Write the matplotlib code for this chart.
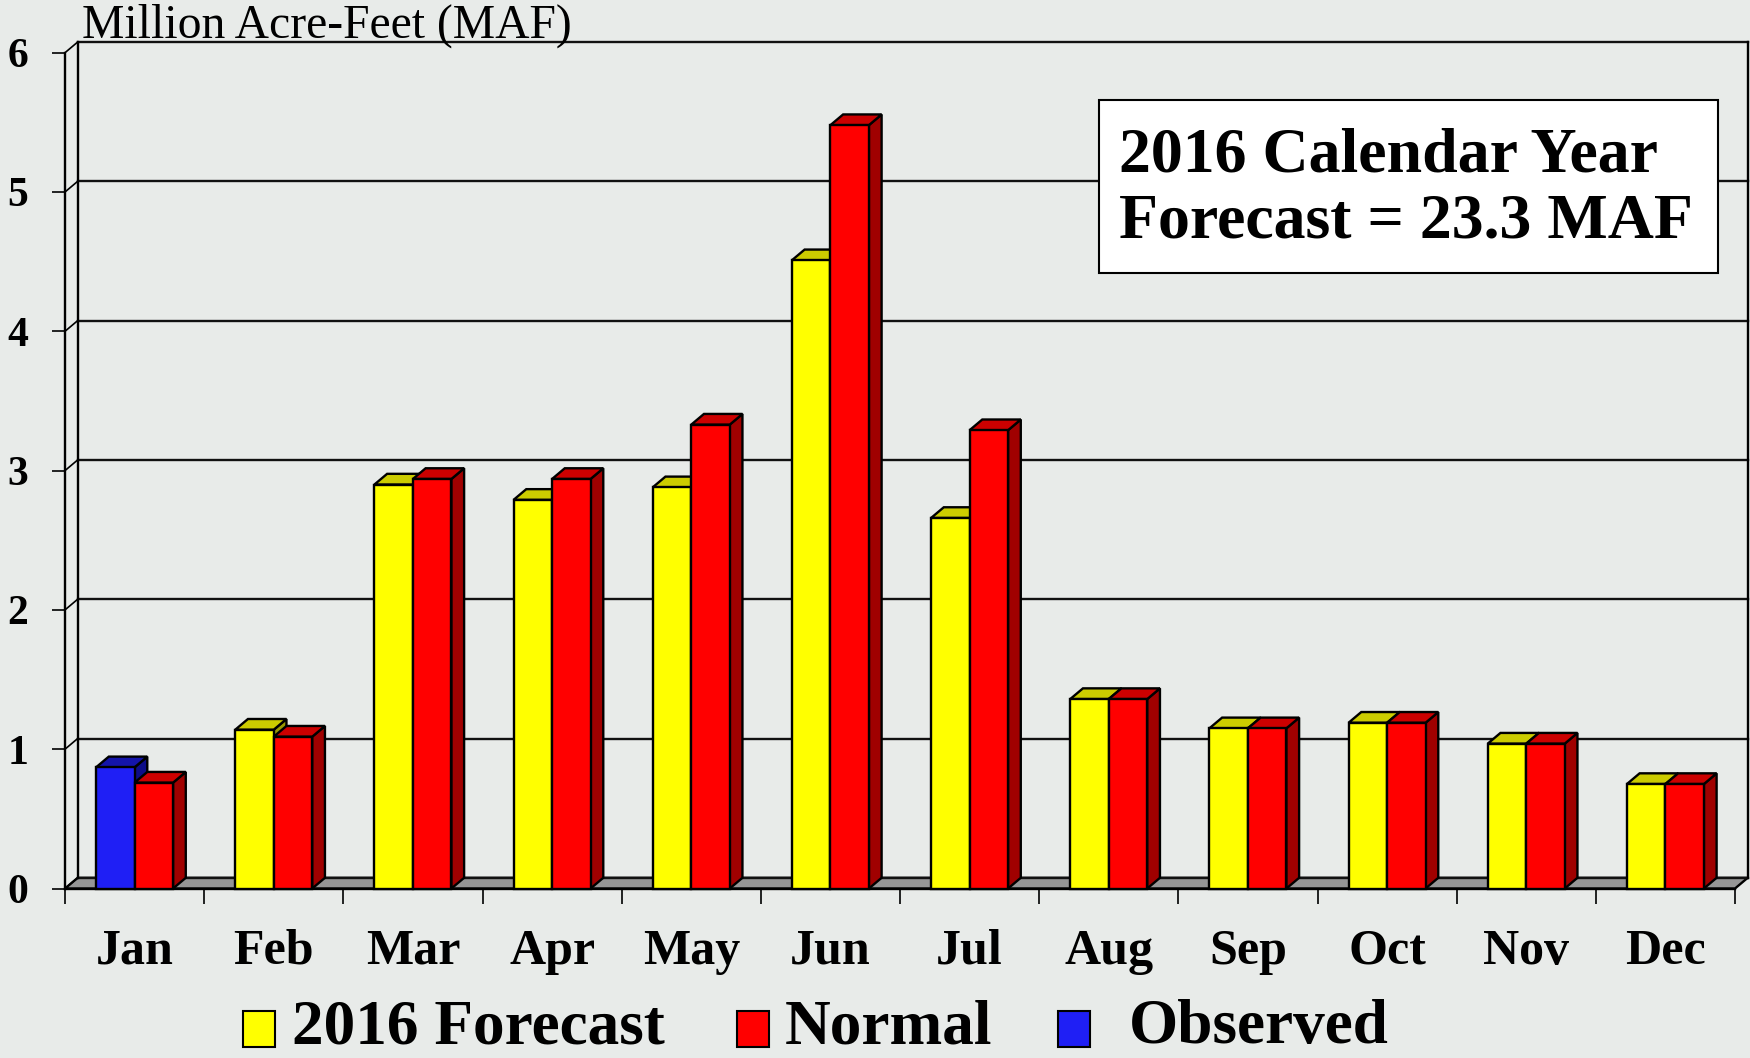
import numpy as np
import matplotlib
matplotlib.use("Agg")
import matplotlib.pyplot as plt
from matplotlib.patches import Polygon, Rectangle

plt.rcParams['font.family'] = ['Liberation Serif', 'DejaVu Serif']

months = ["Jan", "Feb", "Mar", "Apr", "May", "Jun",
          "Jul", "Aug", "Sep", "Oct", "Nov", "Dec"]
forecast = [np.nan, 1.14, 2.90, 2.79, 2.88, 4.51, 2.66, 1.36, 1.15, 1.19, 1.04, 0.75]
normal = [0.76, 1.09, 2.94, 2.94, 3.33, 5.48, 3.29, 1.36, 1.15, 1.19, 1.04, 0.75]
observed = [0.87] + [np.nan] * 11
yticks = [0, 1, 2, 3, 4, 5, 6]

BG = "#e8ebe9"
# front, top, side shades
YELLOW = ("#ffff00", "#cccc00", "#999900")
RED = ("#ff0000", "#cc0000", "#a00000")
BLUE = ("#1f1ff5", "#1414aa", "#0d0d88")

W = 1750
H = 1058
fig = plt.figure(figsize=(W / 100, H / 100), dpi=100, facecolor=BG)

# front plane: x 0..12 -> px 65..1735, y 0 at px 888.5, 139.3 px per unit
px_cat = (1735 - 65) / 12
px_val = 139.3
dx = 12.7 / px_cat  # depth offset in category units
dy = 10.7 / px_val  # depth offset in value units
xmax, ymax = 12 + dx, 6 + dy
ax = fig.add_axes([65 / W, (H - 888.5) / H, xmax * px_cat / W, ymax * px_val / H])
ax.set_xlim(0, xmax)
ax.set_ylim(0, ymax)
ax.set_facecolor("none")
for s in ax.spines.values():
    s.set_visible(False)

lw = 1.7
# floor
ax.add_patch(Polygon([(0, 0), (12, 0), (12 + dx, dy), (dx, dy)], closed=True,
                     facecolor="#969696", edgecolor="black", lw=lw, zorder=1, clip_on=False))
# back wall grid and left wall
for k in yticks:
    ax.plot([dx, 12 + dx], [k + dy, k + dy], color="#111111", lw=lw, zorder=1, clip_on=False)
    ax.plot([0, dx], [k, k + dy], color="black", lw=1.2, zorder=1, clip_on=False)
ax.plot([0, 0], [0, 6], color="black", lw=lw, zorder=1, clip_on=False)
ax.plot([dx, dx], [dy, 6 + dy], color="black", lw=lw, zorder=1, clip_on=False)
ax.plot([12 + dx, 12 + dx], [dy, 6 + dy], color="black", lw=lw, zorder=1, clip_on=False)
ax.plot([0, 12], [0, 0], color="black", lw=lw, zorder=1, clip_on=False)

bw = 38.5 / px_cat
x = np.arange(12) + 0.5


def bar3d(xl, h, shades, z):
    if np.isnan(h):
        return
    front, top, side = shades
    xr = xl + bw
    ax.add_patch(Polygon([(xr, 0), (xr + dx, dy), (xr + dx, h + dy), (xr, h)], closed=True,
                         facecolor=side, edgecolor="black", lw=lw, zorder=z, clip_on=False))
    ax.add_patch(Polygon([(xl, h), (xr, h), (xr + dx, h + dy), (xl + dx, h + dy)], closed=True,
                         facecolor=top, edgecolor="black", lw=lw, zorder=z, clip_on=False))
    ax.bar(xl, h, width=bw, align="edge", color=front, edgecolor="black", lw=lw,
           zorder=z + 0.1, clip_on=False)


for i in range(12):
    bar3d(x[i] - bw, forecast[i], YELLOW, 2 + i * 2)
    bar3d(x[i] - bw, observed[i], BLUE, 2 + i * 2)
    bar3d(x[i], normal[i], RED, 3 + i * 2)

# ticks
ax.set_yticks(yticks)
ax.set_yticklabels([str(v) for v in yticks], fontsize=30, fontweight="bold")
ax.tick_params(axis="y", direction="out", length=9.5, width=1.2, pad=17)
ax.set_xticks(x)
ax.set_xticklabels(months, fontsize=36, fontweight="bold")
ax.set_xticks(np.arange(13), minor=True)
ax.tick_params(axis="x", which="major", length=0, pad=29)
ax.tick_params(axis="x", which="minor", direction="out", length=10.5, width=1.2)

# unit label
fig.text(82 / W, 1 - 38 / H, "Million Acre-Feet (MAF)", fontsize=34.3,
         ha="left", va="baseline")

# annotation box
fig.patches.append(Rectangle((1099 / W, 1 - 273 / H), (1718 - 1099) / W, (273 - 100) / H,
                             transform=fig.transFigure, facecolor="white",
                             edgecolor="black", lw=1.5, zorder=5))
fig.text(1119 / W, 1 - 172 / H, "2016 Calendar Year", fontsize=46, fontweight="bold",
         ha="left", va="baseline", zorder=6)
fig.text(1119 / W, 1 - 238 / H, "Forecast = 23.3 MAF", fontsize=46, fontweight="bold",
         ha="left", va="baseline", zorder=6)

# legend
legend_items = [("2016 Forecast", YELLOW[0], 243, 292),
                ("Normal", RED[0], 737, 785),
                ("Observed", BLUE[0], 1058, 1129)]
for label, col, mx, tx in legend_items:
    fig.patches.append(Rectangle((mx / W, 1 - 1047 / H), 32 / W, 36 / H,
                                 transform=fig.transFigure, facecolor=col,
                                 edgecolor="black", lw=1.5))
    fig.text(tx / W, 1 - 1043 / H, label, fontsize=45.5, fontweight="bold",
             ha="left", va="baseline")

fig.savefig("out.png", dpi=100, facecolor=BG)
